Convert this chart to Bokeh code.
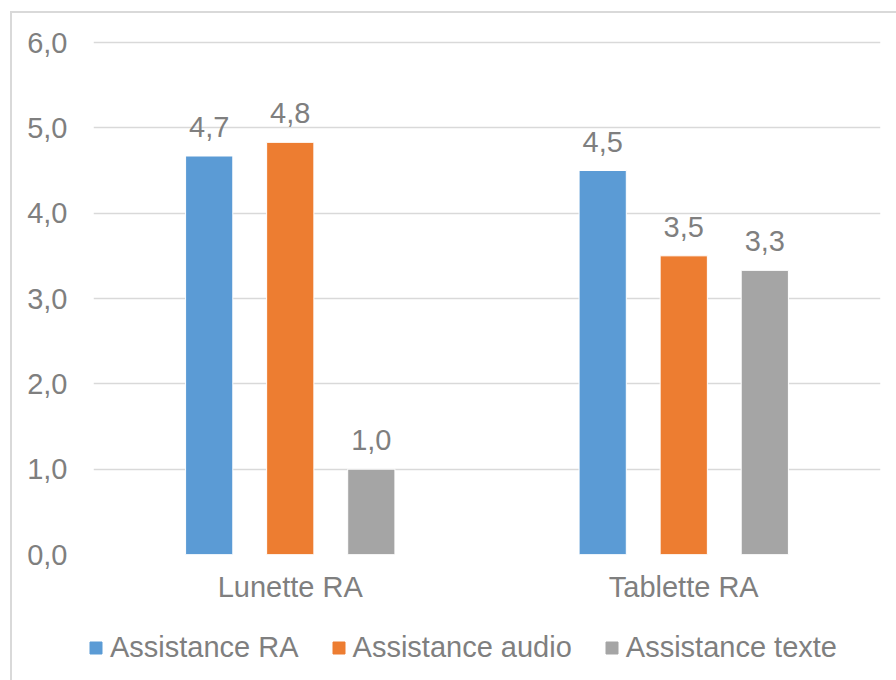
from bokeh.plotting import figure
from bokeh.layouts import column
from bokeh.models import ColumnDataSource, FactorRange, Range1d, FixedTicker, Legend, LegendItem
from bokeh.transform import dodge
from bokeh.core.properties import value
from bokeh.embed import file_html
from bokeh.resources import INLINE

categories = ["Lunette RA", "Tablette RA"]
series = ["Assistance RA", "Assistance audio", "Assistance texte"]
assist_ra = [4.67, 4.5]
assist_audio = [4.83, 3.5]
assist_texte = [1.0, 3.33]
y_ticks = [0, 1, 2, 3, 4, 5, 6]

colors = ["#5B9BD5", "#ED7D31", "#A5A5A5"]
offsets = [-0.206, 0.0, 0.206]
FONT = "Liberation Sans"
TXT = "#7F7F7F"
FS = "29px"

def fr(v):
    return ("%.1f" % v).replace(".", ",")

W = 884
p = figure(width=W, height=602, x_range=FactorRange(*categories), y_range=Range1d(0, 6.047),
           output_backend="svg", toolbar_location=None,
           min_border_left=81, min_border_right=16, min_border_top=25, min_border_bottom=61)
p.frame_align = False
p.outline_line_color = None
p.background_fill_color = "white"
p.border_fill_color = "white"

# legend strip below the chart (its frame fills the whole strip; bars fall outside its y range)
lg = figure(width=W, height=65, x_range=FactorRange(*categories), y_range=Range1d(10, 11),
            output_backend="svg", toolbar_location=None,
            x_axis_location=None, y_axis_location=None,
            min_border_left=0, min_border_right=0, min_border_top=0, min_border_bottom=0)
lg.frame_align = False
lg.outline_line_color = None
lg.xgrid.visible = False
lg.ygrid.visible = False
lg.background_fill_color = "white"
lg.border_fill_color = "white"

items = []
for vals, col, off, name in zip([assist_ra, assist_audio, assist_texte], colors, offsets, series):
    src = ColumnDataSource(dict(x=categories, y=vals, lbl=[fr(v) for v in vals]))
    p.vbar(x=dodge("x", off, range=p.x_range), top="y", width=0.12, source=src,
           fill_color=col, line_color="white", line_width=1)
    p.text(x=dodge("x", off, range=p.x_range), y="y", text="lbl", source=src,
           text_align="center", text_baseline="alphabetic", y_offset=-29,
           text_font=value(FONT), text_font_size=FS, text_color=TXT)
    r = lg.vbar(x=dodge("x", off, range=lg.x_range), top="y", width=0.12, source=src,
                fill_color=col, line_color=col, line_width=1)
    items.append(LegendItem(label=name, renderers=[r]))

p.yaxis.ticker = FixedTicker(ticks=y_ticks)
p.yaxis.major_label_overrides = {t: fr(t) for t in y_ticks}
for ax in [p.xaxis, p.yaxis]:
    ax.axis_line_color = None
    ax.major_tick_line_color = None
    ax.minor_tick_line_color = None
    ax.major_tick_in = 0
    ax.major_tick_out = 0
    ax.major_label_text_font = FONT
    ax.major_label_text_font_size = FS
    ax.major_label_text_color = TXT
p.yaxis.major_label_standoff = 26
p.xaxis.major_label_standoff = 16

p.xgrid.grid_line_color = None
p.ygrid.grid_line_color = "#D9D9D9"
p.ygrid.grid_line_width = 1.5

legend = Legend(items=items, orientation="horizontal", location=(76, 16),
                glyph_width=15, glyph_height=15, label_standoff=7, spacing=32,
                padding=0, margin=0, border_line_alpha=0, background_fill_alpha=0,
                label_text_font=FONT, label_text_font_size=FS, label_text_color=TXT)
lg.add_layout(legend, "center")

layout = column(p, lg, spacing=0)
layout.margin = (11, 0, 0, 10)
layout.styles = {"border-left": "2px solid #D9D9D9", "border-top": "2px solid #D9D9D9"}

open("out.html", "w").write(file_html(layout, INLINE))
